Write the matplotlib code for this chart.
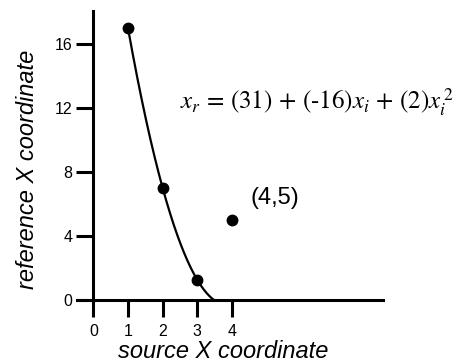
import numpy as np
import matplotlib.pyplot as plt

plt.rcParams['font.family'] = ['Liberation Sans', 'DejaVu Sans']
plt.rcParams['mathtext.fontset'] = 'stix'

# 数据
src_x = [1, 2, 3, 4]
ref_x = [17, 7, 1.25, 5]
fit_idx = [0, 1, 2]  # 参与拟合的点
x_ticks = [0, 1, 2, 3, 4]
y_ticks = [0, 4, 8, 12, 16]
equation = r'$x_r\,=\,(31)\,+\,(\text{-}16)x_i\,+\,(2)x_i^{\,2}$'
outlier_label = '(4,5)'

fig = plt.figure(figsize=(4.6, 3.64), dpi=100)
ax = fig.add_axes([0.1667, 0.1758, 0.665, 0.794])

# 二次拟合曲线，截止到 y=0
coef = np.polyfit([src_x[i] for i in fit_idx], [ref_x[i] for i in fit_idx], 2)
xs = np.linspace(src_x[0], 4, 400)
ys = np.polyval(coef, xs)
keep = ys >= 0
ax.plot(xs[keep], ys[keep], color='black', lw=1.6, clip_on=False)
ax.plot(src_x, ref_x, 'o', color='black', ms=7.5, clip_on=False)

ax.set_xlim(-0.48, 8.34)
ax.set_ylim(0, 18.08)
for s in ['top', 'right']:
    ax.spines[s].set_visible(False)
ax.spines['left'].set_position(('data', 0))
ax.spines['left'].set_linewidth(2.2)
ax.spines['bottom'].set_linewidth(2.2)
ax.set_xticks(x_ticks)
ax.set_yticks(y_ticks)
ax.tick_params(axis='both', direction='out', length=12, width=2.2, labelsize=11.5)
ax.tick_params(axis='x', pad=5)
ax.tick_params(axis='y', pad=3)

ax.text(2.5, 11.9, equation, fontsize=18, ha='left', va='baseline')
ax.text(4.52, 6.4, outlier_label, fontsize=17, ha='left', va='center')

fig.text(223.5 / 460, 1 - 351.7 / 364, 'source X coordinate', fontsize=17,
         style='italic', ha='center', va='center')
fig.text(28 / 460, 1 - 169 / 364, 'reference X coordinate', fontsize=17,
         style='italic', rotation=90, ha='center', va='center')

fig.savefig('out.png', dpi=100)
